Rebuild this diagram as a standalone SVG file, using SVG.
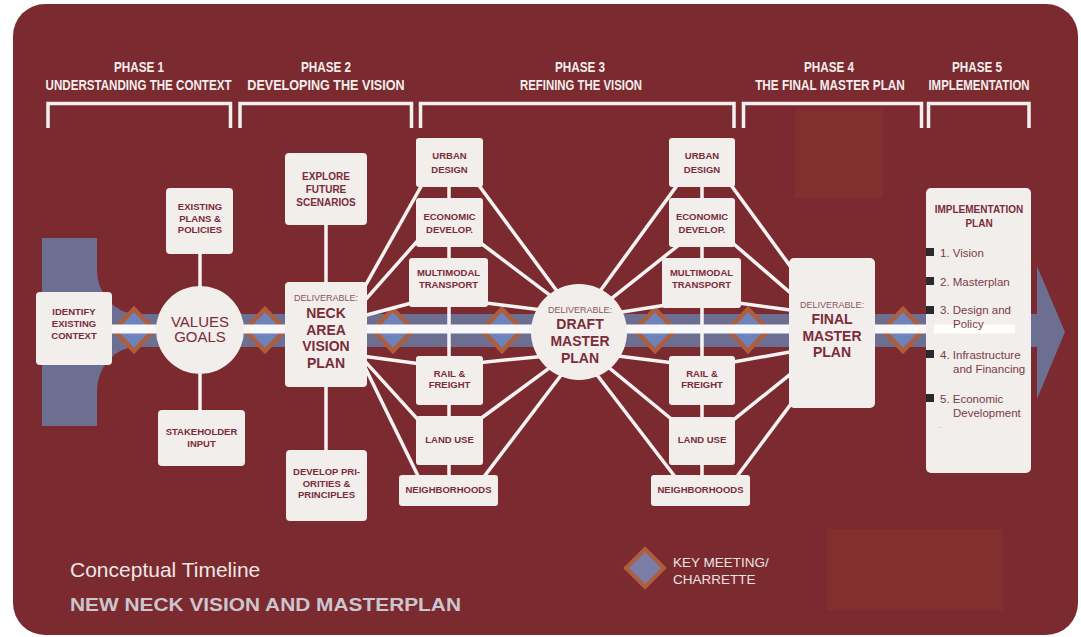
<svg xmlns="http://www.w3.org/2000/svg" xmlns:xlink="http://www.w3.org/1999/xlink" width="1081" height="637" viewBox="0 0 1081 637">
<defs>
<style>
.bx{fill:#F2EEEC}
.t{font-family:"Liberation Sans",Arial,sans-serif;font-weight:bold;font-size:9.5px;fill:#7A2C39;text-anchor:middle}
.t10{font-size:10px}
.big{font-size:14px}
.dl{font-weight:normal;font-size:9px;fill:#8A5661}
.vg{font-weight:normal;font-size:15px}
.hd{font-family:"Liberation Sans",Arial,sans-serif;font-weight:bold;font-size:14px;fill:#F3EEEE;text-anchor:middle}
.im{font-family:"Liberation Sans",Arial,sans-serif;font-size:11.5px;fill:#7A3B48}
.br{fill:none;stroke:#F4F0F0;stroke-width:3.5}
.cn line{stroke:#F7F3F2;stroke-width:3.5}
.bul{fill:#2A2A2A}
</style>
<polygon id="dm" points="0,-21 20,0 0,21 -20,0" fill="#6E83BB" stroke="#AE5E3D" stroke-width="4.5"/>
</defs>

<!-- background -->
<rect x="0" y="0" width="1081" height="637" fill="#FFFFFF"/>
<rect x="13" y="4" width="1065" height="631" rx="32" fill="#7B2A2F"/>
<rect x="795" y="110" width="88" height="88" fill="#82302F"/>
<rect x="827" y="529" width="176" height="81" fill="#832F2F"/>

<!-- phase headers -->
<g id="phases">
<text class="hd" transform="translate(139,72) scale(0.84,1)">PHASE 1</text>
<text class="hd" transform="translate(138.5,90) scale(0.829,1)">UNDERSTANDING THE CONTEXT</text>
<text class="hd" transform="translate(326,72) scale(0.84,1)">PHASE 2</text>
<text class="hd" transform="translate(326,90) scale(0.9,1)">DEVELOPING THE VISION</text>
<text class="hd" transform="translate(580,72) scale(0.84,1)">PHASE 3</text>
<text class="hd" transform="translate(581,90) scale(0.813,1)">REFINING THE VISION</text>
<text class="hd" transform="translate(829,72) scale(0.84,1)">PHASE 4</text>
<text class="hd" transform="translate(830,90) scale(0.842,1)">THE FINAL MASTER PLAN</text>
<text class="hd" transform="translate(977,72) scale(0.84,1)">PHASE 5</text>
<text class="hd" transform="translate(979,90) scale(0.817,1)">IMPLEMENTATION</text>
<path class="br" d="M48,128V103.5H230.5V128"/>
<path class="br" d="M240,128V103.5H411.5V128"/>
<path class="br" d="M420.5,128V103.5H734V128"/>
<path class="br" d="M743.5,128V103.5H921.5V128"/>
<path class="br" d="M928.5,128V103.5H1029V128"/>
</g>

<!-- timeline band -->
<g id="timeline">
<path d="M42,238H97V270A40,44 0 0 0 137,314H1037V266L1065,332L1037,399V347H137A40,44 0 0 0 97,391V426H42Z" fill="#6D6F92"/>
<use xlink:href="#dm" href="#dm" x="134" y="330"/>
<use xlink:href="#dm" href="#dm" x="265" y="330"/>
<use xlink:href="#dm" href="#dm" x="393" y="330"/>
<use xlink:href="#dm" href="#dm" x="502" y="330"/>
<use xlink:href="#dm" href="#dm" x="655" y="330"/>
<use xlink:href="#dm" href="#dm" x="748" y="330"/>
<use xlink:href="#dm" href="#dm" x="903" y="330"/>
<line x1="110" y1="329" x2="1015" y2="329" stroke="#FFFFFF" stroke-width="9" opacity="0.95"/>
</g>

<!-- connectors -->
<g id="connectors" class="cn">
<line x1="200" y1="220" x2="200" y2="440"/>
<line x1="326" y1="190" x2="326" y2="485"/>
<line x1="449" y1="160" x2="449" y2="490"/>
<line x1="702" y1="160" x2="702" y2="490"/>
<!-- NECK to left column -->
<line x1="360" y1="295.2" x2="425" y2="179.5"/>
<line x1="360" y1="305.9" x2="425" y2="232.4"/>
<line x1="360" y1="316.8" x2="420" y2="300.8"/>
<line x1="360" y1="355.8" x2="425" y2="364.4"/>
<line x1="360" y1="355.9" x2="425" y2="427.4"/>
<line x1="360" y1="357" x2="425" y2="490.2"/>
<!-- left column to DRAFT -->
<line x1="476" y1="181.5" x2="565" y2="302"/>
<line x1="476" y1="239.5" x2="565" y2="306.7"/>
<line x1="480" y1="302.3" x2="560" y2="312.3"/>
<line x1="476" y1="362.9" x2="560" y2="354.7"/>
<line x1="476" y1="422" x2="560" y2="360.2"/>
<line x1="478" y1="484.6" x2="565" y2="370"/>
<!-- DRAFT to right column -->
<line x1="595" y1="298" x2="680" y2="181.4"/>
<line x1="600" y1="307.6" x2="682" y2="242.5"/>
<line x1="600" y1="315.5" x2="682" y2="302.4"/>
<line x1="600" y1="353.7" x2="682" y2="364"/>
<line x1="598" y1="358.7" x2="678" y2="424.5"/>
<line x1="590" y1="365.8" x2="680" y2="483.2"/>
<!-- right column to FINAL -->
<line x1="728" y1="181" x2="812" y2="296"/>
<line x1="728" y1="239" x2="810" y2="309.8"/>
<line x1="735" y1="302.6" x2="805" y2="312"/>
<line x1="728" y1="363" x2="805" y2="349.3"/>
<line x1="730" y1="422.7" x2="810" y2="358.3"/>
<line x1="730" y1="485.7" x2="818" y2="367.7"/>
</g>

<!-- phase 1 nodes -->
<g id="identify">
<rect class="bx" x="36" y="292" width="76" height="73" rx="4"/>
<text class="t" x="74" y="315">IDENTIFY</text>
<text class="t" x="74" y="327">EXISTING</text>
<text class="t" x="74" y="338.5">CONTEXT</text>
</g>
<g id="values">
<circle class="bx" cx="200" cy="330" r="44"/>
<text class="t vg" x="200" y="326.5">VALUES</text>
<text class="t vg" x="200" y="342">GOALS</text>
</g>
<g id="existing">
<rect class="bx" x="166" y="188" width="67" height="66" rx="4"/>
<text class="t" x="200" y="210">EXISTING</text>
<text class="t" x="200" y="221.7">PLANS &amp;</text>
<text class="t" x="200" y="233.3">POLICIES</text>
</g>
<g id="stakeholder">
<rect class="bx" x="158" y="410" width="87" height="56" rx="4"/>
<text class="t" x="201.5" y="435">STAKEHOLDER</text>
<text class="t" x="201.5" y="447">INPUT</text>
</g>

<!-- phase 2 nodes -->
<g id="explore">
<rect class="bx" x="285" y="153" width="82" height="72" rx="4"/>
<text class="t t10" x="326" y="180">EXPLORE</text>
<text class="t t10" x="326" y="193.3">FUTURE</text>
<text class="t t10" x="326" y="206">SCENARIOS</text>
</g>
<g id="neck">
<rect class="bx" x="285" y="282" width="82" height="105" rx="4"/>
<text class="t dl" x="326" y="301">DELIVERABLE:</text>
<text class="t big" x="326" y="318">NECK</text>
<text class="t big" x="326" y="334.5">AREA</text>
<text class="t big" x="326" y="351">VISION</text>
<text class="t big" x="326" y="367.5">PLAN</text>
</g>
<g id="develop">
<rect class="bx" x="286" y="450" width="81" height="71" rx="4"/>
<text class="t" x="326.5" y="475">DEVELOP PRI-</text>
<text class="t" x="326.5" y="486.7">ORITIES &amp;</text>
<text class="t" x="326.5" y="498.3">PRINCIPLES</text>
</g>

<!-- phase 3 left column -->
<g id="urban1">
<rect class="bx" x="416" y="138" width="67" height="49" rx="3"/>
<text class="t" x="449.5" y="159.3">URBAN</text>
<text class="t" x="449.5" y="172.7">DESIGN</text>
</g>
<g id="econ1">
<rect class="bx" x="416" y="198" width="67" height="49" rx="3"/>
<text class="t" x="449.5" y="220">ECONOMIC</text>
<text class="t" x="449.5" y="232.7">DEVELOP.</text>
</g>
<g id="multi1">
<rect class="bx" x="409" y="258" width="79" height="49" rx="3"/>
<text class="t" x="448.5" y="276">MULTIMODAL</text>
<text class="t" x="448.5" y="287.7">TRANSPORT</text>
</g>
<g id="rail1">
<rect class="bx" x="416" y="356" width="67" height="49" rx="3"/>
<text class="t" x="449.5" y="376.7">RAIL &amp;</text>
<text class="t" x="449.5" y="388.3">FREIGHT</text>
</g>
<g id="land1">
<rect class="bx" x="416" y="416" width="67" height="49" rx="3"/>
<text class="t" x="449.5" y="442.7">LAND USE</text>
</g>
<g id="neigh1">
<rect class="bx" x="399" y="475" width="99" height="31" rx="3"/>
<text class="t" x="448.5" y="493">NEIGHBORHOODS</text>
</g>

<!-- draft master plan -->
<g id="draft">
<circle class="bx" cx="579" cy="332" r="48"/>
<text class="t dl" x="580" y="312.7">DELIVERABLE:</text>
<text class="t big" x="580" y="329.3">DRAFT</text>
<text class="t big" x="580" y="346">MASTER</text>
<text class="t big" x="580" y="362.7">PLAN</text>
</g>

<!-- phase 3 right column -->
<g id="urban2">
<rect class="bx" x="669" y="138" width="66" height="49" rx="3"/>
<text class="t" x="702" y="159.3">URBAN</text>
<text class="t" x="702" y="172.7">DESIGN</text>
</g>
<g id="econ2">
<rect class="bx" x="669" y="198" width="66" height="49" rx="3"/>
<text class="t" x="702" y="220">ECONOMIC</text>
<text class="t" x="702" y="232.7">DEVELOP.</text>
</g>
<g id="multi2">
<rect class="bx" x="662" y="258" width="79" height="50" rx="3"/>
<text class="t" x="701.5" y="276">MULTIMODAL</text>
<text class="t" x="701.5" y="287.7">TRANSPORT</text>
</g>
<g id="rail2">
<rect class="bx" x="669" y="356" width="66" height="49" rx="3"/>
<text class="t" x="702" y="376.7">RAIL &amp;</text>
<text class="t" x="702" y="388.3">FREIGHT</text>
</g>
<g id="land2">
<rect class="bx" x="669" y="417" width="66" height="48" rx="3"/>
<text class="t" x="702" y="442.7">LAND USE</text>
</g>
<g id="neigh2">
<rect class="bx" x="651" y="475" width="99" height="31" rx="3"/>
<text class="t" x="700.5" y="493">NEIGHBORHOODS</text>
</g>

<!-- phase 4 -->
<g id="final">
<rect class="bx" x="789" y="258" width="86" height="150" rx="5"/>
<text class="t dl" x="832" y="308.3">DELIVERABLE:</text>
<text class="t big" x="832" y="324">FINAL</text>
<text class="t big" x="832" y="340.7">MASTER</text>
<text class="t big" x="832" y="357.3">PLAN</text>
</g>

<!-- phase 5 -->
<g id="implementation">
<rect class="bx" x="926" y="188" width="105" height="285" rx="5"/>
<line x1="934" y1="329" x2="1015" y2="329" stroke="#FFFFFF" stroke-width="9"/>
<text class="t t10" x="979" y="213">IMPLEMENTATION</text>
<text class="t t10" x="979" y="227">PLAN</text>
<rect class="bul" x="926" y="248" width="8" height="8"/>
<rect class="bul" x="926" y="277" width="8" height="8"/>
<rect class="bul" x="926" y="306" width="8" height="8"/>
<rect class="bul" x="926" y="350" width="8" height="8"/>
<rect class="bul" x="926" y="394" width="8" height="8"/>
<text class="im" x="940" y="256.5">1. Vision</text>
<text class="im" x="940" y="286">2. Masterplan</text>
<text class="im" x="940" y="314">3. Design and</text>
<text class="im" x="953" y="328">Policy</text>
<text class="im" x="940" y="359">4. Infrastructure</text>
<text class="im" x="953" y="373">and Financing</text>
<text class="im" x="940" y="402.5">5. Economic</text>
<text class="im" x="953" y="416.5">Development</text>
<text class="im" x="939" y="428" style="font-size:8px;fill:#A08890">.</text>
</g>

<!-- legend and titles -->
<g id="legend">
<polygon points="645,549 664,568 645,587 626,568" fill="#7A7EA6" stroke="#AE5E3D" stroke-width="4"/>
<text x="673" y="567" style="font-family:'Liberation Sans',Arial,sans-serif;font-size:13.5px;fill:#EEE2E3">KEY MEETING/</text>
<text x="673" y="583.5" style="font-family:'Liberation Sans',Arial,sans-serif;font-size:13.5px;fill:#EEE2E3">CHARRETTE</text>
</g>
<g id="title">
<text x="70" y="577" style="font-family:'Liberation Sans',Arial,sans-serif;font-size:21px;fill:#EFE6E6">Conceptual Timeline</text>
<text x="70" y="611" textLength="391" lengthAdjust="spacingAndGlyphs" style="font-family:'Liberation Sans',Arial,sans-serif;font-size:19px;font-weight:bold;fill:#CBC5CE">NEW NECK VISION AND MASTERPLAN</text>
</g>
</svg>
